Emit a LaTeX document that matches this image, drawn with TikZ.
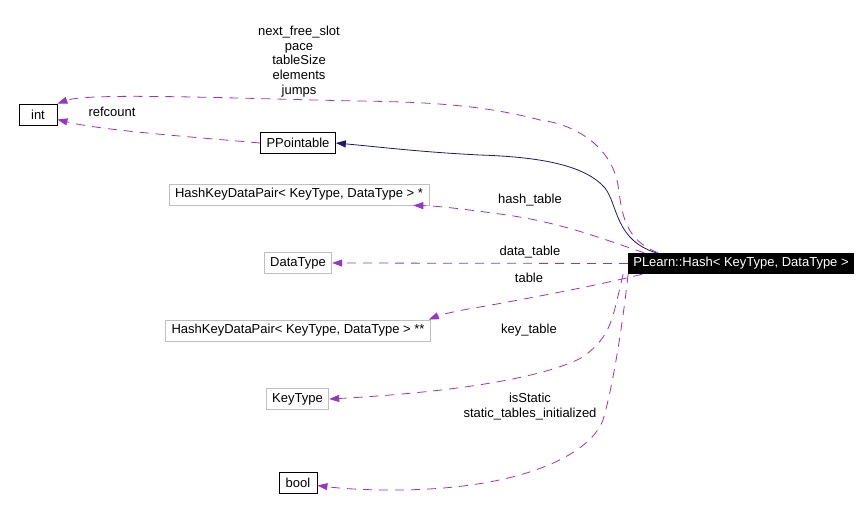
\documentclass[tikz,border=0pt]{standalone}
\usepackage{fontspec}
\setmainfont{Liberation Sans}
\usetikzlibrary{arrows.meta}
\definecolor{edgepurple}{HTML}{9A32CD}
\definecolor{edgenavy}{HTML}{191970}
\definecolor{boxgray}{HTML}{BFBFBF}
\tikzset{
  cls/.style={draw=black, line width=0.8pt, minimum width=38pt, minimum height=21pt, inner xsep=6pt, inner ysep=0pt},
  tmpl/.style={cls, draw=boxgray},
  usage/.style={edgepurple, line width=0.8pt, dash pattern=on 9pt off 7pt, -{Triangle[length=10pt,width=7pt]}},
  inherit/.style={edgenavy, line width=0.8pt, -{Triangle[length=10pt,width=7pt]}},
  lbl/.style={align=center, inner sep=0pt}
}
\begin{document}
\begin{tikzpicture}[x=1pt, y=-1pt, font=\fontsize{13}{14.75}\selectfont]
    \useasboundingbox (0,0) rectangle (868,512);
    % Classes
    \node[cls] (int) at (38,114.5) {int};
    \node[cls] (ppt) at (298,143) {PPointable};
    \node[tmpl] (pairptr) at (299,194.5) {HashKeyDataPair< KeyType, DataType > *};
    \node[tmpl] (datatype) at (298,263) {DataType};
    \node[tmpl] (pairptrptr) at (298,330.5) {HashKeyDataPair< KeyType, DataType > **};
    \node[tmpl] (keytype) at (297.5,399) {KeyType};
    \node[cls] (bool) at (298,482.5) {bool};
    \node[fill=black, text=white, minimum height=21pt, inner xsep=5pt, inner ysep=0pt] (hash) at (741,263.5) {PLearn::Hash< KeyType, DataType >};

    % Edges
    \draw[usage] ([xshift=30pt]hash.north west) .. controls (625,240) and (622,215) .. (618,185)
      .. controls (612,150) and (580,125) .. (540,120)
      .. controls (480,104) and (420,102) .. (360,101)
      .. controls (250,99) and (90,92) .. (int.north east);
    \draw[usage] (ppt.west) .. controls (180,136) and (100,130) .. ([yshift=-5pt]int.east);
    \draw[inherit] ([xshift=28pt]hash.north west) .. controls (615,240) and (618,205) .. (605,188)
      .. controls (585,165) and (540,157) .. (480,155)
      .. controls (420,152) and (380,147) .. (ppt.east);
    \draw[usage] ([xshift=16pt]hash.north west) .. controls (600,238) and (560,222) .. (500,214)
      .. controls (470,210) and (440,206) .. ([xshift=-16pt]pairptr.south east);
    \draw[usage] (hash.west) -- (datatype.east);
    \draw[usage] ([xshift=14pt]hash.south west) .. controls (600,285) and (520,300) .. (480,307)
      .. controls (455,311) and (440,315) .. ([xshift=-2pt]pairptrptr.north east);
    \draw[usage] ([xshift=-5pt]hash.south west) .. controls (612,320) and (612,335) .. (583,357)
      .. controls (540,380) and (440,393) .. (keytype.east);
    \draw[usage] ([xshift=0pt]hash.south west) .. controls (622,330) and (612,390) .. (603,420)
      .. controls (590,455) and (520,490) .. (393,490)
      .. controls (350,490) and (330,487) .. ([yshift=-3pt]bool.east);

    % Labels
    \node[lbl] (lbltop) at (299,61.5) {next\_free\_slot\\pace\\tableSize\\elements\\jumps};
    \node[lbl] (lblref) at (112,112) {refcount};
    \node[lbl] (lblhash) at (530,200) {hash\_table};
    \node[lbl] (lbldata) at (530,252) {data\_table};
    \node[lbl] (lbltable) at (529,278) {table};
    \node[lbl] (lblkey) at (529,330) {key\_table};
    \node[lbl] (lblbool) at (530,406.5) {isStatic\\static\_tables\_initialized};
\end{tikzpicture}
\end{document}
